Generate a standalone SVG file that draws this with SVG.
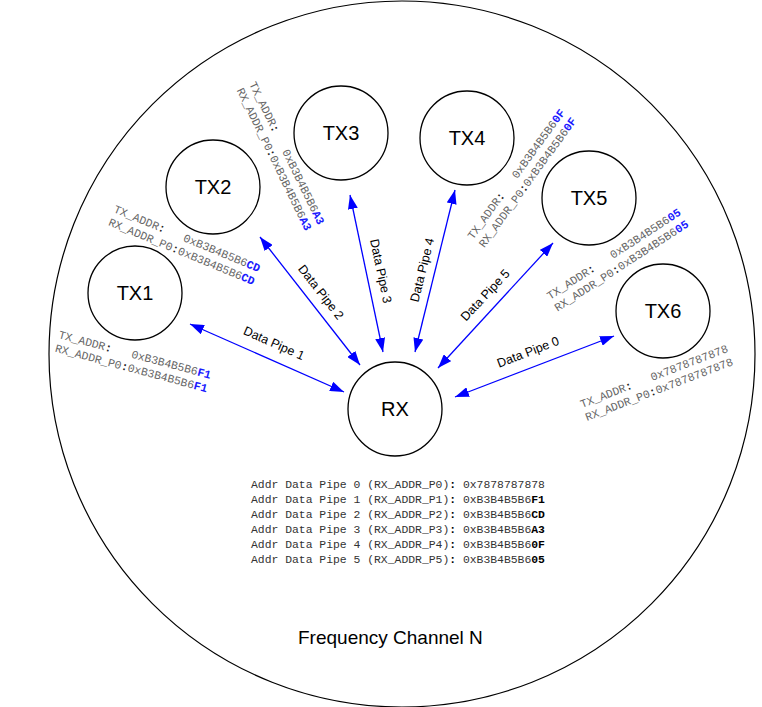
<svg xmlns="http://www.w3.org/2000/svg" width="762" height="707" viewBox="0 0 762 707">
<defs>
<style>
.bg{fill:#fff}
.outer{fill:none;stroke:#000;stroke-width:1.2}
.node{fill:#fff;stroke:#000;stroke-width:1.3}
.nl{font-family:"Liberation Sans",Arial,sans-serif;font-size:20px;fill:#000;text-anchor:middle}
.pl{font-family:"Liberation Sans",Arial,sans-serif;font-size:12.5px;fill:#000;text-anchor:middle}
.conn line{stroke:#0000ff;stroke-width:1.3;marker-start:url(#ah);marker-end:url(#ah)}
.addr{font-family:"Liberation Mono","Courier New",monospace;font-size:11.4px;fill:#666}
.b{font-weight:bold;fill:#1a1aff}
.c{font-weight:bold;fill:#222}
.tbl{font-family:"Liberation Mono","Courier New",monospace;font-size:11.4px;fill:#333}
.tb{font-weight:bold;fill:#000}
.title{font-family:"Liberation Sans",Arial,sans-serif;font-size:19px;fill:#000}
</style>
<marker id="ah" viewBox="0 0 14 10" refX="14" refY="5" markerWidth="14" markerHeight="10" orient="auto-start-reverse" markerUnits="userSpaceOnUse"><path d="M0,0 L14,5 L0,10 z" fill="#0000ff"/></marker>
</defs>
<rect class="bg" x="0" y="0" width="762" height="707"/>
<circle class="outer" cx="402" cy="354" r="353"/>

<g id="connectors" class="conn">
<line x1="190" y1="324" x2="344" y2="392"/>
<line x1="260" y1="237" x2="360" y2="365"/>
<line x1="350" y1="195" x2="383" y2="352"/>
<line x1="455" y1="190" x2="415" y2="352"/>
<line x1="553" y1="243" x2="438" y2="368"/>
<line x1="614" y1="336" x2="455" y2="397"/>
</g>
<g id="pipe-labels">
<text class="pl" transform="translate(274,343) rotate(24)" dy="0.35em">Data Pipe 1</text>
<text class="pl" transform="translate(321,292) rotate(52)" dy="0.35em">Data Pipe 2</text>
<text class="pl" transform="translate(381,271) rotate(78)" dy="0.35em">Data Pipe 3</text>
<text class="pl" transform="translate(422,270) rotate(-76)" dy="0.35em">Data Pipe 4</text>
<text class="pl" transform="translate(485,295) rotate(-47)" dy="0.35em">Data Pipe 5</text>
<text class="pl" transform="translate(528,352) rotate(-21)" dy="0.35em">Data Pipe 0</text>
</g>

<g id="TX1"><circle class="node" cx="135" cy="293" r="47"/><text class="nl" x="135" y="300">TX1</text></g>
<g id="TX2"><circle class="node" cx="213" cy="187" r="47"/><text class="nl" x="213" y="194">TX2</text></g>
<g id="TX3"><circle class="node" cx="341" cy="133" r="47"/><text class="nl" x="341" y="140">TX3</text></g>
<g id="TX4"><circle class="node" cx="467" cy="138" r="47"/><text class="nl" x="467" y="145">TX4</text></g>
<g id="TX5"><circle class="node" cx="589" cy="198" r="47"/><text class="nl" x="589" y="205">TX5</text></g>
<g id="TX6"><circle class="node" cx="663" cy="311" r="47"/><text class="nl" x="663" y="318">TX6</text></g>
<g id="RX"><circle class="node" cx="395" cy="409" r="47"/><text class="nl" x="395" y="416">RX</text></g>

<g id="addr-TX1" class="addr" transform="translate(58,338) rotate(15)">
<text x="0" y="0">TX_ADDR<tspan class="c">:</tspan><tspan x="75.2">0xB3B4B5B6</tspan><tspan class="b">F1</tspan></text>
<text x="0" y="14">RX_ADDR_P0<tspan class="c">:</tspan>0xB3B4B5B6<tspan class="b">F1</tspan></text>
</g>
<g id="addr-TX2" class="addr" transform="translate(113,212) rotate(22.5)">
<text x="0" y="0">TX_ADDR<tspan class="c">:</tspan><tspan x="75.2">0xB3B4B5B6</tspan><tspan class="b">CD</tspan></text>
<text x="0" y="14">RX_ADDR_P0<tspan class="c">:</tspan>0xB3B4B5B6<tspan class="b">CD</tspan></text>
</g>
<g id="addr-TX3" class="addr" transform="translate(249,84) rotate(64)">
<text x="0" y="0">TX_ADDR<tspan class="c">:</tspan><tspan x="75.2">0xB3B4B5B6</tspan><tspan class="b">A3</tspan></text>
<text x="0" y="14">RX_ADDR_P0<tspan class="c">:</tspan>0xB3B4B5B6<tspan class="b">A3</tspan></text>
</g>
<g id="addr-TX4" class="addr" transform="translate(473,240) rotate(-54)">
<text x="0" y="0">TX_ADDR<tspan class="c">:</tspan><tspan x="75.2">0xB3B4B5B6</tspan><tspan class="b">0F</tspan></text>
<text x="0" y="14">RX_ADDR_P0<tspan class="c">:</tspan>0xB3B4B5B6<tspan class="b">0F</tspan></text>
</g>
<g id="addr-TX5" class="addr" transform="translate(550,300) rotate(-33)">
<text x="0" y="0">TX_ADDR<tspan class="c">:</tspan><tspan x="75.2">0xB3B4B5B6</tspan><tspan class="b">05</tspan></text>
<text x="0" y="14">RX_ADDR_P0<tspan class="c">:</tspan>0xB3B4B5B6<tspan class="b">05</tspan></text>
</g>
<g id="addr-TX6" class="addr" transform="translate(582,408) rotate(-21)">
<text x="0" y="0">TX_ADDR<tspan class="c">:</tspan><tspan x="75.2">0x7878787878</tspan></text>
<text x="0" y="14">RX_ADDR_P0<tspan class="c">:</tspan>0x7878787878</text>
</g>

<g id="address-table" class="tbl">
<text x="251" y="488">Addr Data Pipe 0 (RX_ADDR_P0)<tspan class="tb">:</tspan> 0x7878787878</text>
<text x="251" y="503">Addr Data Pipe 1 (RX_ADDR_P1)<tspan class="tb">:</tspan> 0xB3B4B5B6<tspan class="tb">F1</tspan></text>
<text x="251" y="518">Addr Data Pipe 2 (RX_ADDR_P2)<tspan class="tb">:</tspan> 0xB3B4B5B6<tspan class="tb">CD</tspan></text>
<text x="251" y="533">Addr Data Pipe 3 (RX_ADDR_P3)<tspan class="tb">:</tspan> 0xB3B4B5B6<tspan class="tb">A3</tspan></text>
<text x="251" y="548">Addr Data Pipe 4 (RX_ADDR_P4)<tspan class="tb">:</tspan> 0xB3B4B5B6<tspan class="tb">0F</tspan></text>
<text x="251" y="563">Addr Data Pipe 5 (RX_ADDR_P5)<tspan class="tb">:</tspan> 0xB3B4B5B6<tspan class="tb">05</tspan></text>
</g>

<text class="title" x="298" y="644">Frequency Channel N</text>
</svg>
